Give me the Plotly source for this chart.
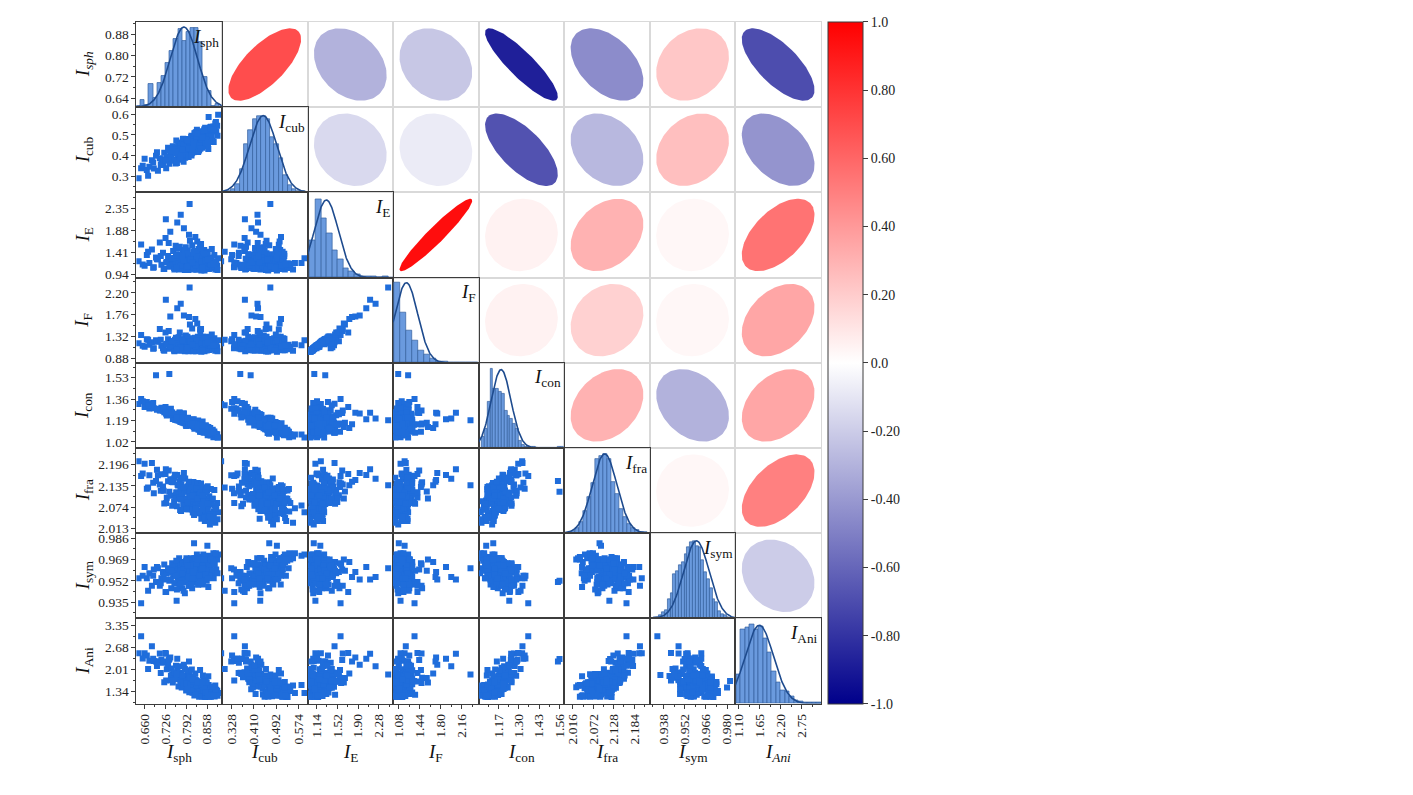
import numpy as np
import plotly.graph_objects as go
from plotly.colors import sample_colorscale

# target pixel positions in the 1413x795 window; the page body adds an 8 px margin
PAGE_W, PAGE_H = 1413, 795
OFF = 8
W, H = PAGE_W - 2 * OFF, PAGE_H - 2 * OFF
LEFT, RIGHT, TOP, BOTTOM = 133, 821, 20, 707
N = 8
FONT = "Liberation Serif"
DARK = "#3c3c3c"
LIGHT = "#d9d9d9"
POINT = "#1f6ddb"
BAR = "#6a9ade"
BAR_EDGE = "#34609f"
FIT = "#1e4b8e"
SCALE = [[0, "rgb(0,0,139)"], [0.5, "rgb(255,255,255)"], [1, "rgb(255,0,0)"]]

row_titles = ["<i>I<sub>sph</sub></i>", "<i>I</i><sub>cub</sub>", "<i>I</i><sub>E</sub>",
              "<i>I</i><sub>F</sub>", "<i>I</i><sub>con</sub>", "<i>I</i><sub>fra</sub>",
              "<i>I</i><sub>sym</sub>", "<i>I</i><sub>Ani</sub>"]
col_titles = ["<i>I</i><sub>sph</sub>", "<i>I</i><sub>cub</sub>", "<i>I</i><sub>E</sub>",
              "<i>I</i><sub>F</sub>", "<i>I</i><sub>con</sub>", "<i>I</i><sub>fra</sub>",
              "<i>I</i><sub>sym</sub>", "<i>I<sub>Ani</sub></i>"]
diag_labels = ["<i>I</i><sub>sph</sub>", "<i>I</i><sub>cub</sub>", "<i>I</i><sub>E</sub>",
               "<i>I</i><sub>F</sub>", "<i>I</i><sub>con</sub>", "<i>I</i><sub>fra</sub>",
               "<i>I</i><sub>sym</sub>", "<i>I</i><sub>Ani</sub>"]

isph = [0.642, 0.650, 0.661, 0.668, 0.676, 0.684, 0.690, 0.697, 0.703, 0.709,
        0.714, 0.719, 0.723, 0.727, 0.731, 0.735, 0.739, 0.742, 0.745, 0.748,
        0.751, 0.754, 0.757, 0.759, 0.762, 0.764, 0.766, 0.767, 0.769, 0.770,
        0.771, 0.773, 0.775, 0.777, 0.779, 0.780, 0.781, 0.783, 0.785, 0.787,
        0.788, 0.789, 0.790, 0.791, 0.793, 0.795, 0.797, 0.799, 0.800, 0.801,
        0.803, 0.805, 0.807, 0.809, 0.810, 0.811, 0.812, 0.813, 0.815, 0.817,
        0.819, 0.820, 0.821, 0.823, 0.825, 0.827, 0.829, 0.830, 0.831, 0.833,
        0.835, 0.837, 0.839, 0.840, 0.841, 0.843, 0.845, 0.846, 0.847, 0.849,
        0.850, 0.851, 0.853, 0.855, 0.857, 0.859, 0.860, 0.861, 0.863, 0.865,
        0.867, 0.869, 0.872, 0.875, 0.878, 0.881, 0.884, 0.887, 0.890, 0.893,
        0.655, 0.672, 0.688, 0.700, 0.712, 0.721, 0.729, 0.737, 0.744, 0.750,
        0.755, 0.758, 0.761, 0.765, 0.768, 0.772, 0.774, 0.776, 0.778, 0.782,
        0.784, 0.786, 0.788, 0.790, 0.792, 0.794, 0.796, 0.798, 0.800, 0.802,
        0.804, 0.806, 0.808, 0.810, 0.812, 0.814, 0.816, 0.818, 0.820, 0.822,
        0.824, 0.826, 0.828, 0.830, 0.832, 0.834, 0.836, 0.838, 0.840, 0.842,
        0.844, 0.846, 0.848, 0.850, 0.852, 0.854, 0.856, 0.858, 0.860, 0.862,
        0.864, 0.866, 0.868, 0.870, 0.873, 0.876, 0.879, 0.882, 0.886, 0.891,
        0.760, 0.775, 0.783, 0.792, 0.801, 0.809, 0.817, 0.825, 0.833, 0.841,
        0.849, 0.857, 0.865, 0.805, 0.815, 0.823, 0.837, 0.845, 0.853, 0.870,
        0.728, 0.746, 0.763, 0.779, 0.797, 0.811, 0.827, 0.843, 0.861, 0.878]
icub = [0.291, 0.339, 0.385, 0.331, 0.347, 0.378, 0.338, 0.399, 0.328, 0.388,
        0.382, 0.356, 0.414, 0.377, 0.395, 0.438, 0.361, 0.419, 0.386, 0.413,
        0.376, 0.438, 0.410, 0.362, 0.434, 0.426, 0.397, 0.458, 0.415, 0.435,
        0.381, 0.448, 0.424, 0.401, 0.463, 0.438, 0.419, 0.481, 0.402, 0.454,
        0.435, 0.390, 0.466, 0.447, 0.423, 0.480, 0.422, 0.463, 0.444, 0.410,
        0.471, 0.453, 0.439, 0.496, 0.427, 0.467, 0.448, 0.484, 0.416, 0.467,
        0.479, 0.445, 0.510, 0.462, 0.433, 0.500, 0.457, 0.482, 0.493, 0.425,
        0.476, 0.513, 0.454, 0.495, 0.476, 0.452, 0.509, 0.490, 0.446, 0.507,
        0.528, 0.474, 0.500, 0.522, 0.468, 0.495, 0.516, 0.486, 0.585, 0.510,
        0.481, 0.538, 0.520, 0.472, 0.540, 0.517, 0.554, 0.517, 0.544, 0.596,
        0.351, 0.304, 0.367, 0.416, 0.355, 0.382, 0.339, 0.425, 0.390, 0.445,
        0.379, 0.431, 0.473, 0.407, 0.419, 0.382, 0.454, 0.435, 0.407, 0.480,
        0.371, 0.443, 0.455, 0.406, 0.478, 0.439, 0.431, 0.472, 0.394, 0.465,
        0.457, 0.429, 0.490, 0.412, 0.453, 0.485, 0.426, 0.508, 0.450, 0.471,
        0.443, 0.524, 0.466, 0.417, 0.489, 0.460, 0.502, 0.444, 0.485, 0.517,
        0.438, 0.480, 0.501, 0.463, 0.534, 0.476, 0.458, 0.499, 0.521, 0.432,
        0.514, 0.495, 0.477, 0.539, 0.491, 0.533, 0.466, 0.518, 0.561, 0.495,
        0.413, 0.394, 0.451, 0.478, 0.435, 0.401, 0.467, 0.493, 0.450, 0.476,
        0.522, 0.478, 0.465, 0.468, 0.456, 0.512, 0.433, 0.489, 0.465, 0.529,
        0.378, 0.422, 0.365, 0.428, 0.472, 0.432, 0.505, 0.487, 0.461, 0.525]
ie = [1.22, 1.58, 1.12, 1.35, 1.18, 1.47, 1.09, 1.30, 1.26, 1.62,
      1.14, 1.40, 1.05, 1.72, 1.20, 1.33, 1.10, 1.85, 1.24, 1.16,
      1.44, 1.07, 1.29, 1.55, 1.12, 2.05, 1.36, 1.15, 1.50, 1.04,
      1.27, 1.19, 2.22, 1.10, 1.32, 1.06, 1.41, 1.13, 1.93, 1.23,
      1.08, 1.37, 1.17, 1.52, 1.21, 1.11, 1.45, 1.03, 1.28, 1.14,
      2.45, 1.25, 1.07, 1.34, 1.19, 1.56, 1.05, 1.22, 1.43, 1.09,
      1.31, 1.16, 1.74, 1.04, 1.27, 1.13, 1.39, 1.18, 1.48, 1.06,
      1.24, 1.12, 1.59, 1.02, 1.29, 1.15, 1.36, 1.08, 1.20, 1.46,
      1.10, 1.26, 1.14, 1.33, 1.05, 1.21, 1.42, 1.11, 1.18, 1.30,
      1.09, 1.17, 1.25, 1.07, 1.15, 1.35, 1.04, 1.20, 1.12, 1.28,
      1.15, 1.42, 1.08, 1.26, 1.33, 1.05, 1.19, 1.61, 1.12, 1.28,
      1.04, 1.22, 1.37, 1.09, 1.17, 1.53, 1.11, 1.24, 1.06, 1.31,
      1.14, 1.46, 1.03, 1.20, 1.27, 1.10, 1.39, 1.16, 1.07, 1.23,
      1.66, 1.13, 1.29, 1.05, 1.18, 1.35, 1.09, 1.21, 1.44, 1.12,
      1.26, 1.04, 1.15, 1.32, 1.08, 1.19, 1.57, 1.11, 1.25, 1.06,
      1.30, 1.14, 1.41, 1.02, 1.17, 1.23, 1.09, 1.36, 1.13, 1.20,
      1.05, 1.27, 1.11, 1.16, 1.48, 1.07, 1.22, 1.10, 1.18, 1.03,
      1.34, 1.12, 1.24, 1.08, 1.79, 1.19, 1.14, 1.29, 1.06, 1.21,
      1.38, 1.10, 1.17, 1.26, 1.04, 1.13, 1.50, 1.09, 1.23, 1.15,
      2.12, 1.28, 1.07, 1.33, 1.11, 1.19, 1.64, 1.05, 1.25, 1.16]
i_f = [1.18, 1.35, 1.11, 1.26, 1.15, 1.20, 1.08, 1.24, 1.22, 1.47,
       1.13, 1.08, 1.03, 1.40, 1.17, 1.26, 1.07, 1.72, 1.22, 1.13,
       1.15, 1.035, 1.25, 1.22, 1.11, 1.89, 1.29, 1.11, 1.30, 1.03,
       1.23, 1.11, 1.98, 1.09, 1.26, 1.05, 1.12, 1.11, 1.74, 1.21,
       1.07, 1.31, 1.12, 1.34, 1.19, 1.09, 1.22, 1.02, 1.24, 1.13,
       2.31, 1.20, 1.06, 1.27, 1.13, 1.48, 1.04, 1.19, 1.10, 1.08,
       1.26, 1.12, 1.67, 1.02, 1.23, 1.10, 1.31, 1.16, 1.25, 1.05,
       1.19, 1.09, 1.47, 1.01, 1.26, 1.12, 1.31, 1.07, 1.17, 1.14,
       1.08, 1.23, 1.12, 1.26, 1.035, 1.18, 1.18, 1.10, 1.14, 1.26,
       1.07, 1.15, 1.20, 1.06, 1.11, 1.28, 1.03, 1.18, 1.10, 1.24,
       1.13, 1.25, 1.07, 1.21, 1.25, 1.045, 1.16, 1.43, 1.11, 1.22,
       1.02, 1.19, 1.185, 1.08, 1.14, 1.40, 1.10, 1.20, 1.04, 1.25,
       1.13, 1.21, 1.02, 1.17, 1.19, 1.09, 1.31, 1.14, 1.04, 1.21,
       1.56, 1.10, 1.16, 1.045, 1.15, 1.28, 1.06, 1.19, 1.29, 1.10,
       1.21, 1.04, 1.11, 1.27, 1.07, 1.11, 1.46, 1.09, 1.23, 1.04,
       1.24, 1.12, 1.205, 1.02, 1.14, 1.17, 1.08, 1.31, 1.09, 1.16,
       1.045, 1.22, 1.09, 1.10, 1.36, 1.06, 1.18, 1.085, 1.16, 1.02,
       1.29, 1.10, 1.22, 1.06, 1.71, 1.16, 1.08, 1.23, 1.05, 1.18,
       1.27, 1.09, 1.14, 1.22, 1.02, 1.12, 1.40, 1.08, 1.17, 1.135,
       2.06, 1.22, 1.06, 1.23, 1.09, 1.15, 1.58, 1.04, 1.19, 1.14]
icon = [1.322, 1.361, 1.297, 1.338, 1.286, 1.324, 1.287, 1.550, 1.283, 1.270,
        1.292, 1.267, 1.255, 1.298, 1.230, 1.233, 1.560, 1.252, 1.235, 1.254,
        1.222, 1.231, 1.197, 1.240, 1.240, 1.201, 1.228, 1.199, 1.231, 1.188,
        1.253, 1.191, 1.207, 1.198, 1.212, 1.174, 1.213, 1.178, 1.245, 1.168,
        1.198, 1.196, 1.197, 1.156, 1.192, 1.163, 1.209, 1.160, 1.189, 1.184,
        1.193, 1.152, 1.175, 1.171, 1.151, 1.167, 1.198, 1.146, 1.185, 1.138,
        1.153, 1.177, 1.131, 1.174, 1.156, 1.149, 1.136, 1.166, 1.117, 1.162,
        1.139, 1.102, 1.158, 1.119, 1.144, 1.120, 1.121, 1.146, 1.129, 1.093,
        1.115, 1.141, 1.101, 1.108, 1.133, 1.093, 1.110, 1.104, 1.080, 1.103,
        1.131, 1.072, 1.104, 1.101, 1.058, 1.102, 1.063, 1.082, 1.081, 1.056,
        1.343, 1.312, 1.330, 1.275, 1.272, 1.286, 1.243, 1.250, 1.284, 1.203,
        1.238, 1.240, 1.194, 1.191, 1.225, 1.252, 1.179, 1.203, 1.230, 1.174,
        1.245, 1.172, 1.197, 1.200, 1.146, 1.206, 1.177, 1.213, 1.174, 1.181,
        1.172, 1.169, 1.179, 1.150, 1.176, 1.155, 1.201, 1.125, 1.170, 1.142,
        1.179, 1.133, 1.129, 1.191, 1.128, 1.155, 1.101, 1.167, 1.132, 1.101,
        1.183, 1.119, 1.131, 1.110, 1.107, 1.153, 1.117, 1.133, 1.074, 1.139,
        1.103, 1.087, 1.131, 1.100, 1.092, 1.117, 1.085, 1.086, 1.080, 1.055,
        1.244, 1.206, 1.192, 1.206, 1.161, 1.195, 1.148, 1.163, 1.149, 1.104,
        1.124, 1.140, 1.107, 1.168, 1.143, 1.169, 1.161, 1.097, 1.147, 1.093,
        1.252, 1.253, 1.215, 1.213, 1.204, 1.163, 1.138, 1.149, 1.091, 1.098]
ifra = [2.205, 2.163, 2.198, 2.127, 2.165, 2.200, 2.114, 2.149, 2.165, 2.139,
        2.168, 2.133, 2.085, 2.169, 2.101, 2.148, 2.118, 2.152, 2.154, 2.078,
        2.153, 2.090, 2.167, 2.108, 2.116, 2.166, 2.109, 2.136, 2.101, 2.103,
        2.146, 2.066, 2.155, 2.139, 2.097, 2.111, 2.122, 2.079, 2.172, 2.119,
        2.084, 2.156, 2.099, 2.089, 2.131, 2.089, 2.133, 2.068, 2.137, 2.098,
        2.137, 2.083, 2.137, 2.102, 2.068, 2.145, 2.094, 2.059, 2.146, 2.089,
        2.118, 2.073, 2.137, 2.114, 2.072, 2.109, 2.143, 2.081, 2.113, 2.103,
        2.057, 2.094, 2.142, 2.057, 2.093, 2.109, 2.111, 2.049, 2.131, 2.091,
        2.099, 2.035, 2.085, 2.121, 2.048, 2.093, 2.134, 2.056, 2.079, 2.105,
        2.025, 2.091, 2.055, 2.098, 2.062, 2.123, 2.030, 2.077, 2.086, 2.060,
        2.170, 2.130, 2.144, 2.181, 2.121, 2.121, 2.086, 2.179, 2.107, 2.145,
        2.158, 2.098, 2.116, 2.138, 2.111, 2.102, 2.126, 2.063, 2.112, 2.156,
        2.084, 2.123, 2.126, 2.096, 2.069, 2.118, 2.125, 2.071, 2.134, 2.104,
        2.119, 2.126, 2.084, 2.140, 2.067, 2.116, 2.090, 2.057, 2.129, 2.080,
        2.128, 2.063, 2.129, 2.089, 2.084, 2.059, 2.132, 2.094, 2.041, 2.110,
        2.083, 2.102, 2.098, 2.044, 2.122, 2.065, 2.086, 2.122, 2.067, 2.041,
        2.091, 2.083, 2.053, 2.126, 2.084, 2.098, 2.046, 2.078, 2.071, 2.040,
        2.164, 2.096, 2.130, 2.068, 2.147, 2.098, 2.052, 2.128, 2.063, 2.109,
        2.086, 2.126, 2.047, 2.104, 2.107, 2.070, 2.117, 2.069, 2.116, 2.035,
        2.182, 2.146, 2.077, 2.158, 2.088, 2.107, 2.099, 2.108, 2.084, 2.043]
isym = [0.954, 0.934, 0.963, 0.954, 0.958, 0.948, 0.961, 0.951, 0.962, 0.948,
        0.954, 0.959, 0.965, 0.943, 0.958, 0.962, 0.952, 0.959, 0.946, 0.966,
        0.956, 0.962, 0.950, 0.959, 0.936, 0.963, 0.966, 0.953, 0.958, 0.970,
        0.949, 0.962, 0.955, 0.965, 0.946, 0.961, 0.957, 0.967, 0.953, 0.964,
        0.942, 0.967, 0.960, 0.951, 0.970, 0.955, 0.965, 0.959, 0.948, 0.966,
        0.962, 0.954, 0.970, 0.957, 0.965, 0.946, 0.968, 0.962, 0.955, 0.982,
        0.951, 0.964, 0.967, 0.956, 0.970, 0.954, 0.964, 0.949, 0.967, 0.961,
        0.971, 0.959, 0.965, 0.953, 0.969, 0.962, 0.949, 0.973, 0.958, 0.967,
        0.956, 0.971, 0.962, 0.969, 0.952, 0.980, 0.965, 0.960, 0.972, 0.956,
        0.969, 0.962, 0.971, 0.958, 0.974, 0.965, 0.970, 0.961, 0.969, 0.973,
        0.956, 0.944, 0.956, 0.963, 0.950, 0.955, 0.943, 0.961, 0.953, 0.964,
        0.950, 0.958, 0.968, 0.955, 0.957, 0.948, 0.964, 0.960, 0.952, 0.966,
        0.944, 0.962, 0.964, 0.951, 0.968, 0.959, 0.955, 0.966, 0.948, 0.962,
        0.960, 0.953, 0.968, 0.951, 0.959, 0.966, 0.955, 0.970, 0.957, 0.962,
        0.954, 0.973, 0.961, 0.949, 0.965, 0.958, 0.966, 0.953, 0.963, 0.969,
        0.951, 0.961, 0.965, 0.958, 0.971, 0.960, 0.955, 0.963, 0.968, 0.947,
        0.966, 0.963, 0.958, 0.970, 0.960, 0.968, 0.954, 0.965, 0.974, 0.958,
        0.956, 0.950, 0.961, 0.967, 0.955, 0.949, 0.961, 0.966, 0.956, 0.961,
        0.969, 0.959, 0.956, 0.964, 0.959, 0.970, 0.951, 0.964, 0.957, 0.969,
        0.953, 0.960, 0.945, 0.958, 0.964, 0.954, 0.969, 0.962, 0.954, 0.967]
iani = [2.50, 3.02, 2.50, 2.43, 2.27, 2.71, 2.26, 2.25, 2.25, 2.49,
        2.30, 2.21, 1.61, 2.51, 2.01, 2.15, 2.32, 2.37, 2.03, 1.84,
        1.91, 1.86, 1.90, 1.90, 1.83, 2.33, 1.87, 1.78, 1.86, 1.76,
        1.86, 1.82, 2.10, 1.77, 1.81, 1.80, 1.63, 1.78, 2.15, 1.69,
        1.80, 1.72, 1.79, 1.65, 1.79, 1.75, 1.71, 1.68, 1.67, 1.67,
        1.85, 1.67, 1.67, 1.61, 1.67, 1.75, 1.71, 1.60, 1.77, 1.65,
        1.65, 1.63, 1.88, 1.67, 1.66, 1.59, 1.63, 1.62, 1.63, 1.56,
        1.61, 1.50, 1.59, 1.27, 1.57, 1.53, 1.55, 1.55, 1.51, 1.47,
        1.45, 1.53, 1.46, 1.42, 1.43, 1.45, 1.44, 1.53, 1.53, 1.46,
        1.46, 1.43, 1.40, 1.42, 1.34, 1.38, 1.51, 1.38, 1.35, 1.28,
        2.338, 2.015, 2.332, 2.110, 1.898, 2.248, 1.667, 2.292, 1.807, 1.604,
        1.906, 1.725, 1.700, 2.054, 1.483, 1.897, 1.656, 1.855, 1.448, 1.798,
        1.763, 1.642, 2.015, 1.580, 1.359, 1.656, 1.975, 1.442, 1.693, 1.304,
        1.740, 1.746, 1.422, 2.002, 1.286, 1.619, 1.668, 1.207, 1.700, 1.390,
        1.409, 1.615, 1.500, 1.249, 1.488, 1.335, 1.989, 1.239, 1.507, 1.177,
        1.473, 1.280, 1.673, 1.178, 1.160, 1.626, 1.294, 1.297, 1.364, 1.795,
        1.170, 1.369, 1.180, 1.473, 1.225, 1.470, 1.190, 1.177, 1.281, 1.200,
        2.114, 1.611, 1.526, 1.582, 2.247, 1.399, 1.577, 1.517, 1.170, 1.539,
        1.439, 1.604, 1.180, 1.553, 1.627, 1.224, 1.635, 1.814, 1.307, 1.170,
        2.487, 1.672, 1.862, 1.821, 1.403, 1.704, 1.605, 1.615, 1.190, 1.214]
data = [isph, icub, ie, i_f, icon, ifra, isym, iani]

# correlation coefficients, upper triangle row by row
r_sph = [0.70, -0.30, -0.22, -0.88, -0.45, 0.22, -0.70]
r_cub = [-0.15, -0.08, -0.68, -0.28, 0.25, -0.42]
r_e = [0.95, 0.05, 0.30, 0.03, 0.55]
r_f = [0.05, 0.18, 0.03, 0.35]
r_con = [0.30, -0.30, 0.35]
r_fra = [0.03, 0.50]
r_sym = [-0.20]
corr_rows = [r_sph, r_cub, r_e, r_f, r_con, r_fra, r_sym]

# histograms on the diagonal (bar heights in % of panel height)
hist_start = [0.635, 0.310, 1.02, 1.00, 1.065, 2.010, 0.9315, 1.031]
hist_width = [0.0131, 0.016, 0.102, 0.103, 0.018, 0.011, 0.00185, 0.117]
hist_sph = [2, 8, 3, 27, 11, 29, 37, 52, 66, 80, 92, 78, 88, 93, 93, 76, 35, 19, 2, 4]
hist_cub = [2, 4, 10, 27, 57, 73, 86, 90, 90, 86, 65, 56, 40, 20, 8, 4, 2, 1]
hist_e = [44, 92, 69, 52, 32, 21, 11, 7, 4, 2, 1, 1, 0, 1]
hist_f = [94, 59, 38, 26, 14, 10, 5, 2, 1, 0.5, 0, 0, 0.5, 0]
hist_con = [13, 22, 54, 93, 70, 69, 66, 64, 44, 38, 34, 29, 23, 9, 4, 2, 1, 1, 1,
            0, 0, 0, 0, 0, 0, 0, 0, 1, 1]
hist_fra = [3, 6, 13, 26, 43, 59, 87, 91, 93, 87, 60, 46, 29, 19, 11, 6, 4, 2, 2]
hist_sym = [1, 2, 4, 7, 10, 22, 30, 52, 55, 62, 66, 75, 83, 90, 91, 85, 83, 68, 54,
            46, 36, 23, 19, 9, 5, 4, 2]
hist_ani = [34, 87, 89, 93, 87, 91, 77, 60, 38, 25, 16, 14, 9, 4, 3, 2, 1.5, 2, 1.5]
hist_counts = [hist_sph, hist_cub, hist_e, hist_f, hist_con, hist_fra, hist_sym, hist_ani]

# normal fit drawn over each histogram
fit_mean = [0.785, 0.445, 1.32, 1.21, 1.188, 2.103, 0.9598, 1.64]
fit_sd = [0.043, 0.050, 0.22, 0.195, 0.063, 0.034, 0.0084, 0.37]
fit_peak = [94, 90, 91, 94, 92, 93, 91, 92]

# axis ranges and tick labels
x_range = [[0.635, 0.905], [0.294, 0.607], [0.976, 2.54], [0.982, 2.45],
           [1.045, 1.59], [1.992, 2.227], [0.929, 0.9855], [1.014, 3.25]]
y_range = [[0.606, 0.926], [0.224, 0.633], [0.867, 2.70], [0.786, 2.51],
           [0.972, 1.649], [2.000, 2.243], [0.922, 0.990], [0.957, 3.566]]
x_ticks = [["0.660", "0.726", "0.792", "0.858"], ["0.328", "0.410", "0.492", "0.574"],
           ["1.14", "1.52", "1.90", "2.28"], ["1.08", "1.44", "1.80", "2.16"],
           ["1.17", "1.30", "1.43", "1.56"], ["2.016", "2.072", "2.128", "2.184"],
           ["0.938", "0.952", "0.966", "0.980"], ["1.10", "1.65", "2.20", "2.75"]]
y_ticks = [["0.64", "0.72", "0.80", "0.88"], ["0.3", "0.4", "0.5", "0.6"],
           ["0.94", "1.41", "1.88", "2.35"], ["0.88", "1.32", "1.76", "2.20"],
           ["1.02", "1.19", "1.36", "1.53"], ["2.013", "2.074", "2.135", "2.196"],
           ["0.935", "0.952", "0.969", "0.986"], ["1.34", "2.01", "2.68", "3.35"]]
cbar_vals = [-1.0, -0.8, -0.6, -0.4, -0.2, 0.0, 0.2, 0.4, 0.6, 0.8, 1.0]
cbar_text = ["-1.0", "-0.80", "-0.60", "-0.40", "-0.20", "0.0",
             "0.20", "0.40", "0.60", "0.80", "1.0"]

cw = (RIGHT - LEFT) / N
ch = (BOTTOM - TOP) / N


def px(x):
    return (x - OFF) / W


def py(y):
    return 1 - (y - OFF) / H


def xdom(j):
    return [px(LEFT + j * cw), px(LEFT + (j + 1) * cw)]


def ydom(i):
    return [py(TOP + (i + 1) * ch), py(TOP + i * ch)]


def xa(k):
    return "x" if k == 1 else "x%d" % k


def ya(k):
    return "y" if k == 1 else "y%d" % k


def tick_cfg(labels):
    vals = [float(v) for v in labels]
    step = vals[1] - vals[0]
    return dict(tickmode="array", tickvals=vals, ticktext=labels, ticks="outside",
                ticklen=4, tickwidth=1, tickcolor=DARK, showticklabels=True,
                tickfont=dict(family=FONT, size=13.5, color="#222"),
                minor=dict(ticks="outside", ticklen=2, tickcolor=DARK,
                           tickmode="linear", tick0=vals[0], dtick=step / 2))


# upper panels first so the dark frames of the others end up on top
cells = [(i, j) for i in range(N) for j in range(N) if i < j]
cells += [(i, j) for i in range(N) for j in range(N) if i >= j]
ids = {c: k + 1 for k, c in enumerate(cells)}

fig = go.Figure()
layout = {}
annotations = []

for (i, j), k in ids.items():
    xname = "xaxis" if k == 1 else "xaxis%d" % k
    yname = "yaxis" if k == 1 else "yaxis%d" % k
    xax = dict(domain=xdom(j), anchor=ya(k), showgrid=False, zeroline=False,
               showline=True, mirror=True, linewidth=1, showticklabels=False, ticks="")
    yax = dict(domain=ydom(i), anchor=xa(k), showgrid=False, zeroline=False,
               showline=True, mirror=True, linewidth=1, showticklabels=False, ticks="")

    if i < j:
        r = corr_rows[i][j - i - 1]
        t = np.linspace(0, 2 * np.pi, 120)
        d = np.arccos(r)
        col = sample_colorscale(SCALE, [(r + 1) / 2])[0]
        fig.add_trace(go.Scatter(
            x=0.85 * np.cos(t + d / 2), y=0.85 * np.cos(t - d / 2),
            mode="lines", fill="toself", fillcolor=col, line=dict(width=0, color=col),
            xaxis=xa(k), yaxis=ya(k), showlegend=False, hoverinfo="skip"))
        xax.update(range=[-1, 1], linecolor=LIGHT)
        yax.update(range=[-1, 1], linecolor=LIGHT)
    elif i == j:
        counts = hist_counts[i]
        centers = hist_start[i] + hist_width[i] * (np.arange(len(counts)) + 0.5)
        fig.add_trace(go.Bar(
            x=centers, y=counts, width=hist_width[i],
            marker=dict(color=BAR, line=dict(color=BAR_EDGE, width=0.7)),
            xaxis=xa(k), yaxis=ya(k), showlegend=False))
        xs = np.linspace(x_range[i][0], x_range[i][1], 200)
        ys = fit_peak[i] * np.exp(-0.5 * ((xs - fit_mean[i]) / fit_sd[i]) ** 2)
        fig.add_trace(go.Scatter(
            x=xs, y=ys, mode="lines", line=dict(color=FIT, width=1.6),
            xaxis=xa(k), yaxis=ya(k), showlegend=False, hoverinfo="skip"))
        xax.update(range=x_range[i], linecolor=DARK)
        yax.update(range=[0, 100], linecolor=DARK)
        annotations.append(dict(
            text=diag_labels[i], xref=xa(k) + " domain", yref=ya(k) + " domain",
            x=0.99, y=0.98, xanchor="right", yanchor="top", showarrow=False,
            font=dict(family=FONT, size=19, color="#111")))
    else:
        fig.add_trace(go.Scatter(
            x=data[j], y=data[i], mode="markers",
            marker=dict(symbol="square", size=6, color=POINT, line=dict(width=0)),
            xaxis=xa(k), yaxis=ya(k), showlegend=False))
        xax.update(range=x_range[j], linecolor=DARK)
        yax.update(range=y_range[i], linecolor=DARK)
        if j == 0:
            yax.update(tick_cfg(y_ticks[i]))

    if i == N - 1:
        xax.update(tick_cfg(x_ticks[j]))
        xax.update(tickangle=-90)

    layout[xname] = xax
    layout[yname] = yax

# Isph ticks on the first panel (its own axis sits over the histogram counts)
k0 = ids[(0, 0)]
layout["yaxis65"] = dict(range=y_range[0], overlaying=ya(k0), anchor=xa(k0), side="left",
                         showgrid=False, zeroline=False, showline=False,
                         **tick_cfg(y_ticks[0]))
fig.add_trace(go.Scatter(x=[None], y=[None], xaxis=xa(k0), yaxis="y65",
                         showlegend=False, hoverinfo="skip"))

# colour bar
fig.add_trace(go.Scatter(
    x=[None], y=[None], mode="markers", xaxis=xa(1), yaxis=ya(1), showlegend=False,
    marker=dict(color=[0], cmin=-1, cmax=1, colorscale=SCALE, showscale=True,
                colorbar=dict(x=px(828), xanchor="left", xpad=0, ypad=0,
                              y=py(TOP), yanchor="top",
                              len=(BOTTOM - TOP) / H, lenmode="fraction",
                              thickness=35, thicknessmode="pixels",
                              outlinewidth=1, outlinecolor=DARK,
                              tickmode="array", tickvals=cbar_vals, ticktext=cbar_text,
                              ticks="outside", ticklen=5, tickcolor=DARK,
                              tickfont=dict(family=FONT, size=14, color="#222")))))

for i in range(N):
    yd = ydom(i)
    annotations.append(dict(
        text=row_titles[i], xref="paper", yref="paper", x=px(80), y=(yd[0] + yd[1]) / 2,
        textangle=-90, showarrow=False, xanchor="center", yanchor="middle",
        font=dict(family=FONT, size=19, color="#111")))
    xd = xdom(i)
    annotations.append(dict(
        text=col_titles[i], xref="paper", yref="paper", x=(xd[0] + xd[1]) / 2,
        y=py(757), showarrow=False, xanchor="center", yanchor="middle",
        font=dict(family=FONT, size=19, color="#111")))

fig.update_layout(
    width=W, height=H,
    margin=dict(l=0, r=0, t=0, b=0),
    paper_bgcolor="white", plot_bgcolor="white",
    font=dict(family=FONT, size=14, color="#222"),
    bargap=0,
    annotations=annotations,
    **layout)

fig.write_html("out.html")
